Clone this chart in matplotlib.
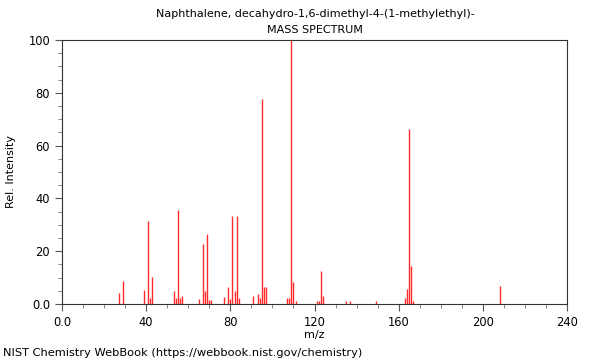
import matplotlib
matplotlib.use('Agg')
from matplotlib import pyplot as plt
from matplotlib.ticker import MultipleLocator, FuncFormatter

# m/z values and relative intensities
mz = [27, 29, 39, 41, 42, 43, 53, 54, 55, 56, 57,
      65, 67, 68, 69, 70, 71, 77, 79, 80, 81, 82, 83, 84,
      91, 93, 94, 95, 96, 97, 107, 108, 109, 110, 111,
      121, 122, 123, 124, 135, 137, 149,
      163, 164, 165, 166, 167, 208]
intensity = [4.0, 8.8, 5.3, 31.6, 2.1, 10.1, 4.9, 2.4, 35.6, 2.4, 3.0,
             1.8, 22.7, 4.9, 26.5, 1.5, 1.4, 2.5, 6.3, 1.8, 33.4, 4.9, 33.4, 2.4,
             3.0, 3.8, 2.4, 77.5, 6.6, 6.3, 2.4, 2.3, 100, 8.3, 1.1,
             1.3, 1.3, 12.6, 3.0, 1.2, 1.2, 1.2,
             2.4, 5.7, 66.3, 14.5, 1.1, 6.9]

title = 'Naphthalene, decahydro-1,6-dimethyl-4-(1-methylethyl)-'

fig = plt.figure(figsize=(6, 3.6), dpi=100)
ax = fig.add_axes([62/600, 1-304/360, 505/600, 264/360])

ax.vlines(mz, 0, intensity, colors='#ff2a2a', linewidth=1)

ax.set_xlim(0, 240)
ax.set_ylim(0, 100)
ax.xaxis.set_major_locator(MultipleLocator(40))
ax.xaxis.set_minor_locator(MultipleLocator(10))
ax.yaxis.set_major_locator(MultipleLocator(20))
ax.yaxis.set_minor_locator(MultipleLocator(5))
fmt = FuncFormatter(lambda v, p: '0.0' if v == 0 else '%d' % v)
ax.xaxis.set_major_formatter(fmt)
ax.yaxis.set_major_formatter(fmt)
ax.tick_params(which='major', length=5, width=0.8, labelsize=8.3, color='#555555')
ax.tick_params(which='minor', length=3, width=0.6, color='#777777')
for s in ax.spines.values():
    s.set_color('#333333')
    s.set_linewidth(0.8)

ax.set_xlabel('m/z', fontsize=8, labelpad=1)
ax.set_ylabel('Rel. Intensity', fontsize=8, labelpad=9)

fig.text(315/600, 1-14/360, title, ha='center', va='center', fontsize=8)
fig.text(315/600, 1-30/360, 'MASS SPECTRUM', ha='center', va='center', fontsize=8)
fig.text(3/600, 1-353/360, 'NIST Chemistry WebBook (https://webbook.nist.gov/chemistry)',
         ha='left', va='center', fontsize=8.2)

fig.savefig('out.png', dpi=100)
